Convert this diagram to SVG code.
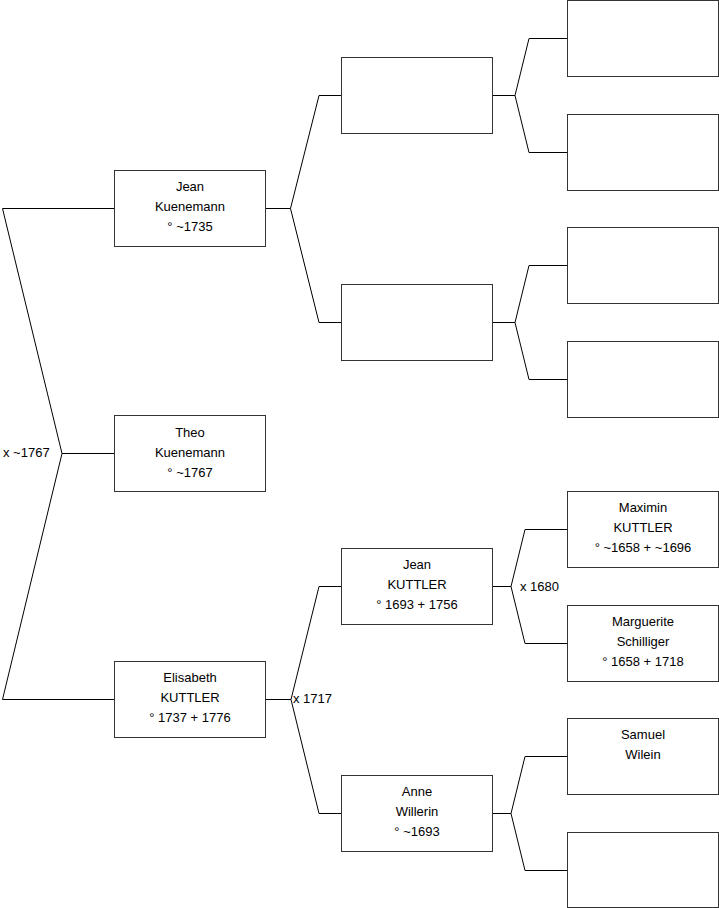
<svg xmlns="http://www.w3.org/2000/svg" width="719" height="908" viewBox="0 0 719 908">
<style>
.box{fill:#fff;stroke:#333;stroke-width:1}
.c{fill:none;stroke:#000;stroke-width:1}
text{font-family:"Liberation Sans",Arial,sans-serif;font-size:13px;fill:#000}
.t{text-anchor:middle}
</style>
<rect width="719" height="908" fill="#fff"/>
<g id="connectors">
<path class="c" d="M114,208.5 H2.5 L62,453.5 H114 M62,453.5 L2.5,699.5 H114"/>
<path class="c" d="M265,208.5 H290.5 L319,95.5 H341 M290.5,208.5 L319,322.5 H341"/>
<path class="c" d="M492,95.5 H515 L529,38.5 H567 M515,95.5 L529,152.5 H567"/>
<path class="c" d="M492,322.5 H515 L529,265.5 H567 M515,322.5 L529,379.5 H567"/>
<path class="c" d="M265,699.5 H291 L319,586.5 H341 M291,699.5 L319,813.5 H341"/>
<path class="c" d="M492,586.5 H511 L525,529.5 H567 M511,586.5 L525,643.5 H567"/>
<path class="c" d="M492,813.5 H511 L525,756.5 H567 M511,813.5 L525,870.5 H567"/>
<text x="3" y="457">x ~1767</text>
<text x="293" y="703">x 1717</text>
<text x="520" y="591">x 1680</text>
</g>
<g id="theo"><rect class="box" x="114.5" y="415.5" width="151" height="76"/>
<text class="t" x="190" y="437">Theo</text><text class="t" x="190" y="457">Kuenemann</text><text class="t" x="190" y="477">° ~1767</text></g>
<g id="jean-kuenemann"><rect class="box" x="114.5" y="170.5" width="151" height="76"/>
<text class="t" x="190" y="191">Jean</text><text class="t" x="190" y="211">Kuenemann</text><text class="t" x="190" y="231">° ~1735</text></g>
<g id="elisabeth-kuttler"><rect class="box" x="114.5" y="661.5" width="151" height="76"/>
<text class="t" x="190" y="682">Elisabeth</text><text class="t" x="190" y="702">KUTTLER</text><text class="t" x="190" y="722">° 1737 + 1776</text></g>
<g id="g2a"><rect class="box" x="341.5" y="57.5" width="151" height="76"/></g>
<g id="g2b"><rect class="box" x="341.5" y="284.5" width="151" height="76"/></g>
<g id="jean-kuttler"><rect class="box" x="341.5" y="548.5" width="151" height="76"/>
<text class="t" x="417" y="569">Jean</text><text class="t" x="417" y="589">KUTTLER</text><text class="t" x="417" y="609">° 1693 + 1756</text></g>
<g id="anne-willerin"><rect class="box" x="341.5" y="775.5" width="151" height="76"/>
<text class="t" x="417" y="796">Anne</text><text class="t" x="417" y="816">Willerin</text><text class="t" x="417" y="836">° ~1693</text></g>
<g id="g3a"><rect class="box" x="567.5" y="0.5" width="151" height="76"/></g>
<g id="g3b"><rect class="box" x="567.5" y="114.5" width="151" height="76"/></g>
<g id="g3c"><rect class="box" x="567.5" y="227.5" width="151" height="76"/></g>
<g id="g3d"><rect class="box" x="567.5" y="341.5" width="151" height="76"/></g>
<g id="maximin-kuttler"><rect class="box" x="567.5" y="491.5" width="151" height="76"/>
<text class="t" x="643" y="512">Maximin</text><text class="t" x="643" y="532">KUTTLER</text><text class="t" x="643" y="552">° ~1658 + ~1696</text></g>
<g id="marguerite-schilliger"><rect class="box" x="567.5" y="605.5" width="151" height="76"/>
<text class="t" x="643" y="626">Marguerite</text><text class="t" x="643" y="646">Schilliger</text><text class="t" x="643" y="666">° 1658 + 1718</text></g>
<g id="samuel-wilein"><rect class="box" x="567.5" y="718.5" width="151" height="76"/>
<text class="t" x="643" y="739">Samuel</text><text class="t" x="643" y="759">Wilein</text></g>
<g id="g3h"><rect class="box" x="567.5" y="832.5" width="151" height="75"/></g>
</svg>
